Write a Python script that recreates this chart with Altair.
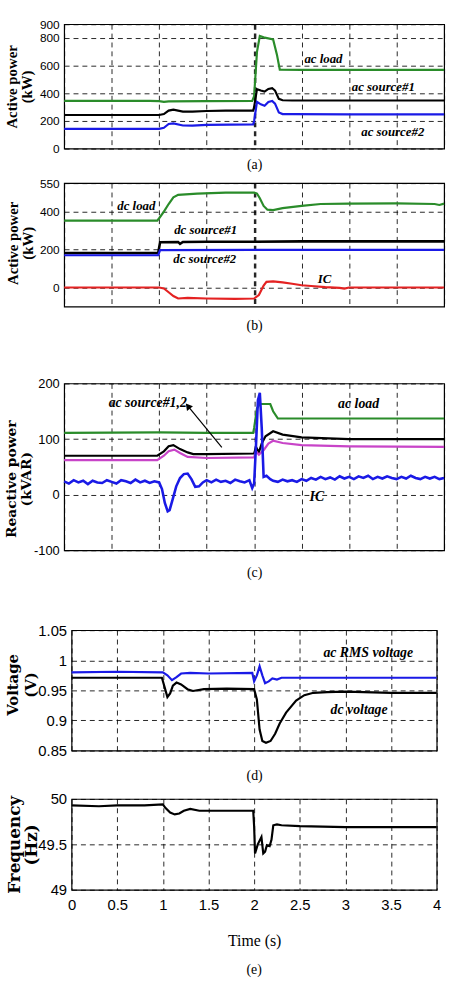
import altair as alt
import pandas as pd

XTICKS = [0, 0.5, 1, 1.5, 2, 2.5, 3, 3.5, 4]

# ---------------- (a) active power, ac side (kW) ----------------
A_LOAD_T = [0, 0.9, 1.0, 1.05, 1.1, 1.5, 1.98, 2.0, 2.03, 2.06, 2.1, 2.2, 2.24, 2.27, 2.5, 3.0, 3.5, 4.0]
A_LOAD_V = [345, 345, 343, 338, 342, 344, 345, 380, 700, 815, 805, 790, 680, 572, 570, 570, 570, 570]
A_SRC1_T = [0, 1.0, 1.05, 1.1, 1.15, 1.25, 1.35, 1.5, 1.7, 1.99, 2.0, 2.03, 2.07, 2.11, 2.15, 2.19, 2.22, 2.26, 2.3, 2.4, 3.0, 4.0]
A_SRC1_V = [243, 243, 250, 275, 282, 268, 268, 272, 275, 275, 300, 430, 420, 412, 432, 438, 420, 360, 350, 348, 348, 348]
A_SRC2_T = [0, 1.0, 1.05, 1.1, 1.15, 1.25, 1.35, 1.5, 1.99, 2.0, 2.03, 2.07, 2.11, 2.15, 2.19, 2.22, 2.26, 2.3, 2.4, 3.0, 4.0]
A_SRC2_V = [143, 143, 150, 178, 182, 167, 166, 172, 175, 200, 338, 320, 310, 338, 345, 325, 262, 250, 250, 248, 248]
A_NOTE_LABELS = ["ac load", "ac source#1", "ac source#2"]
A_NOTE_T = [2.73, 3.36, 3.46]
A_NOTE_V = [650, 443, 121]

# ---------------- (b) active power, dc side (kW) ----------------
B_LOAD_T = [0, 0.98, 1.0, 1.05, 1.1, 1.15, 1.2, 1.4, 1.7, 2.0, 2.03, 2.06, 2.1, 2.14, 2.2, 2.3, 2.5, 2.7, 3.0, 3.5, 3.9, 3.95, 4.0]
B_LOAD_V = [352, 352, 365, 400, 440, 475, 488, 495, 500, 500, 495, 470, 430, 410, 408, 418, 430, 440, 442, 443, 440, 435, 442]
B_SRC1_T = [0, 0.99, 1.01, 1.2, 1.22, 1.25, 1.5, 2.0, 2.5, 3.0, 4.0]
B_SRC1_V = [182, 182, 238, 240, 230, 240, 241, 241, 243, 243, 243]
B_SRC2_T = [0, 0.99, 1.01, 2.0, 4.0]
B_SRC2_V = [170, 170, 197, 198, 198]
B_IC_T = [0, 1.0, 1.05, 1.1, 1.15, 1.2, 1.3, 1.5, 1.8, 2.0, 2.05, 2.1, 2.13, 2.2, 2.3, 2.4, 2.5, 2.6, 2.75, 2.9, 2.95, 3.0, 3.2, 4.0]
B_IC_V = [0, 0, -5, -25, -45, -58, -55, -58, -60, -58, -40, 10, 30, 32, 27, 20, 12, 8, 2, -2, -6, 0, 0, 0]
B_NOTE_LABELS = ["dc load", "dc source#1", "dc source#2", "IC"]
B_NOTE_T = [0.76, 1.49, 1.48, 2.74]
B_NOTE_V = [431, 301, 151, 42]

# ---------------- (c) reactive power (kVAR) ----------------
C_LOAD_T = [0, 1.0, 1.5, 1.99, 2.0, 2.03, 2.06, 2.17, 2.2, 2.25, 2.5, 3.0, 3.5, 4.0]
C_LOAD_V = [111, 112, 111, 111, 120, 155, 163, 163, 150, 137, 137, 137, 137, 137]
C_SRC1_T = [0, 0.98, 1.05, 1.1, 1.15, 1.22, 1.3, 1.36, 1.5, 2.0, 2.02, 2.05, 2.08, 2.12, 2.2, 2.3, 2.5, 3.0, 4.0]
C_SRC1_V = [70, 70, 78, 87, 89, 82, 76, 73, 73, 74, 86, 76, 92, 105, 114, 108, 103, 100, 100]
C_SRC2_T = [0, 0.98, 1.05, 1.1, 1.16, 1.22, 1.3, 1.5, 2.0, 2.02, 2.05, 2.1, 2.15, 2.2, 2.3, 2.5, 3.0, 4.0]
C_SRC2_V = [62, 62, 70, 78, 81, 75, 68, 66, 67, 78, 72, 80, 92, 97, 93, 89, 87, 86]
C_IC_T = [0.00, 0.05, 0.10, 0.15, 0.20, 0.25, 0.30, 0.35, 0.40, 0.45, 0.50, 0.55, 0.60, 0.65, 0.70, 0.75, 0.80, 0.85, 0.90, 0.95,
          1.00, 1.03, 1.06, 1.09, 1.11, 1.14, 1.18, 1.22, 1.26, 1.30, 1.34, 1.38, 1.42, 1.46, 1.50, 1.55, 1.60, 1.65, 1.70, 1.75,
          1.80, 1.85, 1.90, 1.95, 1.98,
          2.00, 2.02, 2.04, 2.06, 2.08, 2.10, 2.13, 2.17, 2.20,
          2.25, 2.30, 2.35, 2.40, 2.45, 2.50, 2.55, 2.60, 2.65, 2.70, 2.75, 2.80, 2.85, 2.90, 2.95, 3.00, 3.05, 3.10, 3.15, 3.20,
          3.25, 3.30, 3.35, 3.40, 3.45, 3.50, 3.55, 3.60, 3.65, 3.70, 3.75, 3.80, 3.85, 3.90, 3.95, 4.00]
C_IC_V = [24, 20, 26, 22, 25, 19, 25, 22, 21, 26, 23, 20, 26, 24, 21, 27, 22, 25, 21, 24,
          22, 10, -15, -30, -28, -10, 15, 30, 37, 38, 28, 14, 15, 22, 26, 22, 27, 23, 25, 21,
          27, 24, 22, 26, 12,
          20, 90, 170, 183, 120, 32, 34, 28, 25,
          23, 27, 24, 26, 23, 28, 25, 30, 27, 32, 28, 31, 27, 33, 29, 32, 28, 33, 30, 34,
          28, 32, 29, 33, 30, 28, 32, 29, 34, 30, 28, 32, 29, 32, 28, 30]
C_NOTE_LABELS = ["ac source#1,2", "ac load", "IC"]
C_NOTE_T = [0.88, 3.1, 2.66]
C_NOTE_V = [165, 163, -5]
C_ARROW_T = [1.66, 1.31]
C_ARROW_V = [85, 158]

# ---------------- (d) voltage (V) ----------------
D_AC_T = [0, 0.5, 1.0, 1.05, 1.1, 1.15, 1.2, 1.3, 1.5, 1.98, 2.0, 2.03, 2.06, 2.09, 2.12, 2.16, 2.2, 2.25, 2.3, 2.5, 3.0, 3.5, 4.0]
D_AC_V = [0.98, 0.981, 0.98, 0.975, 0.967, 0.972, 0.978, 0.979, 0.978, 0.979, 0.965, 0.975, 0.99, 0.975, 0.962, 0.965, 0.97, 0.968, 0.971, 0.971, 0.971, 0.971, 0.971]
D_DC_T = [0, 0.99, 1.02, 1.05, 1.08, 1.11, 1.15, 1.2, 1.27, 1.33, 1.45, 1.7, 2.0, 2.03, 2.06, 2.09, 2.13, 2.18, 2.23, 2.28, 2.35, 2.46, 2.55, 2.65, 2.8, 3.0, 3.5, 4.0]
D_DC_V = [0.971, 0.971, 0.955, 0.939, 0.945, 0.958, 0.963, 0.96, 0.952, 0.949, 0.952, 0.953, 0.952, 0.935, 0.885, 0.866, 0.863, 0.866, 0.878, 0.895, 0.913, 0.933, 0.942, 0.946, 0.947, 0.948, 0.946, 0.946]
D_NOTE_LABELS = ["ac RMS voltage", "dc voltage"]
D_NOTE_T = [3.25, 3.15]
D_NOTE_V = [1.012, 0.917]

# ---------------- (e) frequency (Hz) ----------------
E_F_T = [0, 0.3, 0.5, 0.8, 1.0, 1.03, 1.08, 1.13, 1.18, 1.23, 1.3, 1.4, 1.6, 1.8, 1.99, 2.0, 2.01, 2.04, 2.08, 2.1, 2.12, 2.14, 2.17, 2.19, 2.21, 2.25, 2.3, 2.5, 3.0, 3.5, 4.0]
E_F_V = [49.93, 49.92, 49.93, 49.93, 49.94, 49.9, 49.85, 49.83, 49.84, 49.87, 49.89, 49.87, 49.87, 49.87, 49.87, 49.7, 49.4, 49.5, 49.58, 49.4, 49.42, 49.49, 49.48, 49.55, 49.71, 49.72, 49.71, 49.7, 49.69, 49.69, 49.69]

GREEN = "#2a8c2a"
BLACK = "#000000"
BLUE = "#1a1ae6"
RED = "#e42222"
MAGENTA = "#c844c8"

SANS = "Liberation Sans, Arial, sans-serif"
SERIF = "Liberation Serif, Times New Roman, serif"
DVSERIF = "DejaVu Serif, serif"

FRAME = alt.ViewBackground(stroke="black", strokeWidth=1.2)


def series_df(ts, vs):
    assert len(ts) == len(vs)
    return pd.DataFrame({"t": ts, "v": vs})


def panel(series, ydom, yvals, ytitle, tfont, tsize, tx, ty, tlh, lfont, lsize, w, h,
          notes, nsize, caption=None, cap_pad=10, thick2=False, last=False, extra=()):
    gw = {"condition": {"test": "datum.value === 2", "value": 2.5}, "value": 1} if thick2 else 1
    common = dict(values=XTICKS, ticks=False, domain=False, grid=True, gridDash=[5, 4],
                  gridColor="black", gridOpacity=0.85, gridWidth=gw)
    if last:
        xaxis = alt.Axis(labels=True, labelFont=lfont, labelFontSize=lsize, labelColor="black",
                         labelPadding=8, labelFlush=False, labelOverlap=False,
                         labelExpr="'' + datum.value",
                         title="Time (s)", titleFont=SERIF, titleFontSize=16,
                         titleFontWeight="normal", titleColor="black", titlePadding=20, **common)
    else:
        xaxis = alt.Axis(labels=False, title=caption, titleFont=SERIF, titleFontSize=14,
                         titleFontWeight="normal", titleColor="black", titlePadding=cap_pad, **common)
    yaxis = alt.Axis(values=yvals, labelExpr="'' + datum.value", labelFont=lfont, labelFontSize=lsize,
                     labelColor="black", labelPadding=5, labelOverlap=False, labelFlush=False,
                     ticks=False, domain=False, grid=True, gridDash=[5, 4], gridColor="black",
                     gridOpacity=0.85, title=ytitle, titleFont=tfont, titleFontSize=tsize,
                     titleFontWeight="bold", titleColor="black", titleX=tx, titleY=h / 2 + ty,
                     titleBaseline="top", titleAlign="center", titleAngle=270, titleLineHeight=tlh)
    xenc = alt.X("t:Q", scale=alt.Scale(domain=[0, 4], nice=False, zero=False), axis=xaxis)
    yenc = alt.Y("v:Q", scale=alt.Scale(domain=ydom, nice=False, zero=False), axis=yaxis)
    layers = []
    for ts, vs, col, sw in series:
        layers.append(alt.Chart(series_df(ts, vs)).mark_line(color=col, strokeWidth=sw)
                      .encode(x=xenc, y=yenc))
    for ex in extra:
        layers.append(ex(xenc, yenc))
    labels, nts, nvs = notes
    if labels:
        ndf = pd.DataFrame({"label": labels, "t": nts, "v": nvs})
        layers.append(alt.Chart(ndf).mark_text(font=SERIF, fontStyle="italic", fontWeight="bold",
                                               fontSize=nsize, color="black", align="center",
                                               baseline="middle")
                      .encode(x=xenc, y=yenc, text="label:N"))
    ch = alt.layer(*layers).properties(width=w, height=h, view=FRAME)
    if last:
        ch = ch.properties(title=alt.TitleParams("(e)", orient="bottom", font=SERIF, fontSize=14,
                                                 fontWeight="normal", color="black", offset=15))
    return ch


def arrow(xenc, yenc):
    adf = pd.DataFrame({"t": C_ARROW_T, "v": C_ARROW_V})
    shaft = alt.Chart(adf).mark_line(color="black", strokeWidth=1.2).encode(x=xenc, y=yenc)
    head = alt.Chart(adf.iloc[[1]]).mark_point(shape="triangle", filled=True, color="black",
                                               size=60, angle=321, opacity=1).encode(x=xenc, y=yenc)
    return alt.layer(shaft, head)


def spacer(h):
    return (alt.Chart(pd.DataFrame({"t": [0]})).mark_point(opacity=0)
            .encode(x=alt.X("t:Q", axis=None), y=alt.Y("t:Q", axis=None))
            .properties(width=10, height=h, view=alt.ViewBackground(stroke="transparent")))


SW = 2.2
pa = panel([(A_LOAD_T, A_LOAD_V, GREEN, SW), (A_SRC1_T, A_SRC1_V, BLACK, SW), (A_SRC2_T, A_SRC2_V, BLUE, SW)],
           [0, 900], [0, 200, 400, 600, 800, 900], ["Active power", "(kW)"], SERIF, 15, -60, 0, 15,
           SANS, 12, 385, 126, (A_NOTE_LABELS, A_NOTE_T, A_NOTE_V), 13,
           caption="(a)", cap_pad=9, thick2=True)
pb = panel([(B_LOAD_T, B_LOAD_V, GREEN, SW), (B_SRC1_T, B_SRC1_V, BLACK, 2.6), (B_SRC2_T, B_SRC2_V, BLUE, SW),
            (B_IC_T, B_IC_V, RED, SW)],
           [-100, 550], [0, 200, 400, 550], ["Active power", "(kW)"], SERIF, 15, -59, -2, 15,
           SANS, 12, 385, 125, (B_NOTE_LABELS, B_NOTE_T, B_NOTE_V), 13,
           caption="(b)", cap_pad=12, thick2=True)
pc = panel([(C_LOAD_T, C_LOAD_V, GREEN, SW), (C_SRC1_T, C_SRC1_V, BLACK, SW), (C_SRC2_T, C_SRC2_V, MAGENTA, SW),
            (C_IC_T, C_IC_V, BLUE, 2.6)],
           [-100, 200], [-100, 0, 100, 200], ["Reactive power", "(kVAR)"], DVSERIF, 14, -60, 12, 15,
           SANS, 13, 385, 169, (C_NOTE_LABELS, C_NOTE_T, C_NOTE_V), 14,
           caption="(c)", cap_pad=16, extra=[arrow])
pd_ = panel([(D_AC_T, D_AC_V, BLUE, SW), (D_DC_T, D_DC_V, BLACK, SW)],
            [0.85, 1.05], [0.85, 0.9, 0.95, 1, 1.05], ["Voltage", "(V)"], DVSERIF, 15, -67, -6, 18,
            SANS, 15, 370, 122, (D_NOTE_LABELS, D_NOTE_T, D_NOTE_V), 14,
            caption="(d)", cap_pad=18)
pe = panel([(E_F_T, E_F_V, BLACK, SW)],
           [49, 50], [49, 49.5, 50], ["Frequency", "(Hz)"], DVSERIF, 17, -66, 0, 17,
           SANS, 15, 370, 92, ([], [], []), 14, last=True)

chart = (alt.vconcat(pa, spacer(35), pb, spacer(78), pc, spacer(81), pd_, spacer(49), pe,
                     spacing=0, bounds="flush", center=True)
         .properties(padding={"left": 4, "top": 11, "right": 2, "bottom": 4}, background="white"))

chart.save("out.html", embed_options={"renderer": "svg", "actions": False})
